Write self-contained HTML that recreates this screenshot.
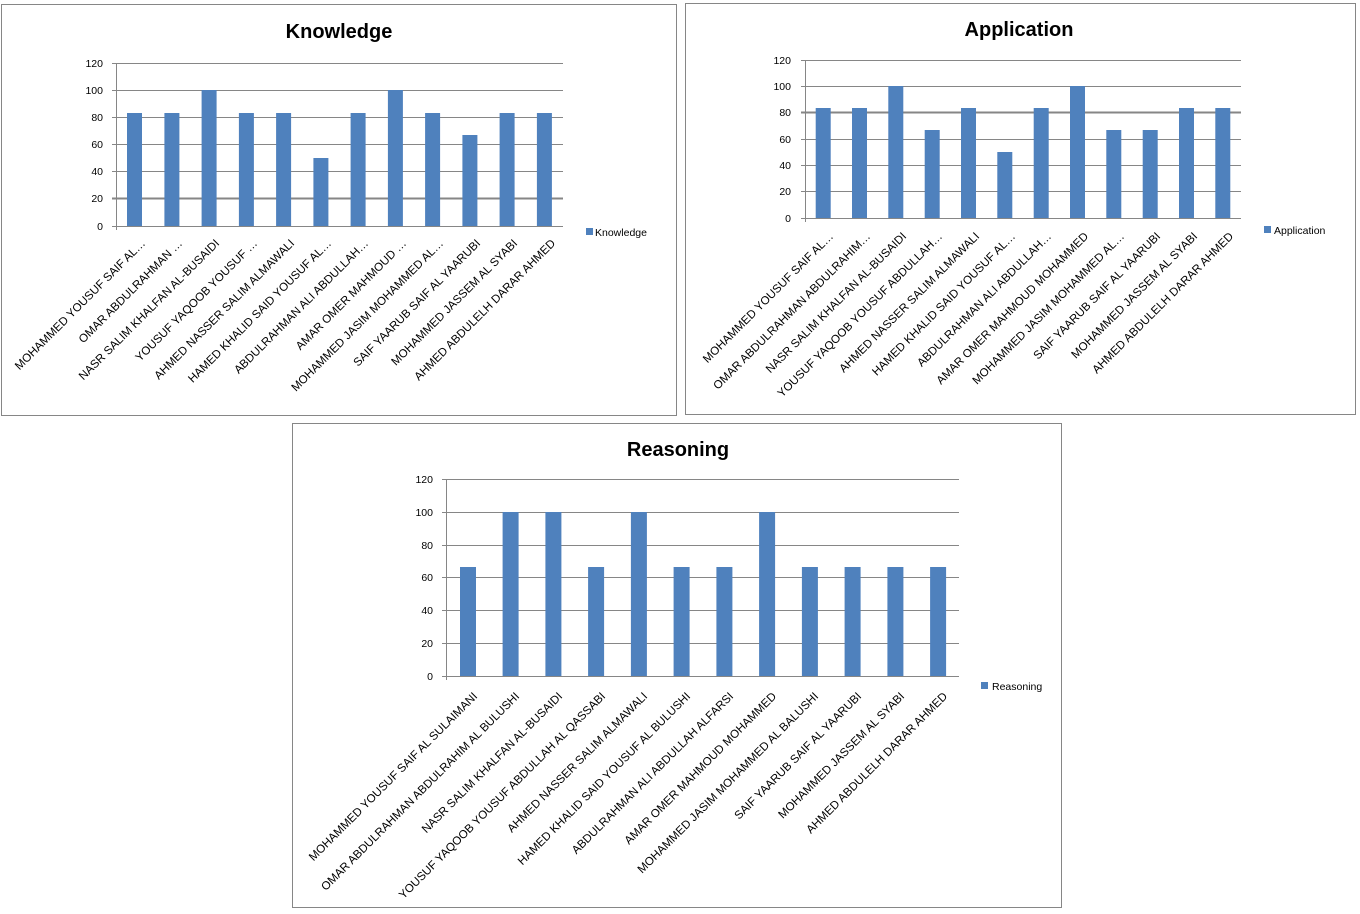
<!DOCTYPE html>
<html><head><meta charset="utf-8"><style>
html,body{margin:0;padding:0;background:#fff;}
svg{display:block;font-family:"Liberation Sans",sans-serif;}
.t{font-weight:bold;font-size:20px;fill:#000;}
.y{font-size:10.5px;fill:#000;text-anchor:end;}
.l{font-size:11.6px;fill:#000;text-anchor:end;white-space:pre;}
.g{stroke:#868686;stroke-width:1;}
.b{fill:#4f81bd;}
.leg{font-size:10.5px;fill:#000;}
</style></head><body>
<svg width="1360" height="914" viewBox="0 0 1360 914">
<!-- Knowledge -->
<rect x="1.5" y="4.5" width="675" height="411" fill="#fff" stroke="#868686"/>
<text class="t" x="339" y="38" text-anchor="middle">Knowledge</text>
<g class="g">
<line x1="112" y1="63.5" x2="563" y2="63.5"/><line x1="112" y1="90.5" x2="563" y2="90.5"/><line x1="112" y1="117.5" x2="563" y2="117.5"/><line x1="112" y1="144.5" x2="563" y2="144.5"/><line x1="112" y1="171.5" x2="563" y2="171.5"/><line x1="112" y1="198.5" x2="563" y2="198.5" style="stroke-width:2"/><line x1="112" y1="226.5" x2="563" y2="226.5"/>
<line x1="116.5" y1="63" x2="116.5" y2="230"/>
</g>
<g class="y"><text x="103" y="67">120</text><text x="103" y="94">100</text><text x="103" y="121">80</text><text x="103" y="148">60</text><text x="103" y="175">40</text><text x="103" y="202">20</text><text x="103" y="230">0</text></g>
<g class="b">
<rect x="127" y="113" width="15" height="113"/><rect x="164.4" y="113" width="15" height="113"/><rect x="201.6" y="90" width="15" height="136"/><rect x="238.9" y="113" width="15" height="113"/><rect x="276.1" y="113" width="15" height="113"/><rect x="313.4" y="158" width="15" height="68"/><rect x="350.6" y="113" width="15" height="113"/><rect x="387.9" y="90" width="15" height="136"/><rect x="425.1" y="113" width="15" height="113"/><rect x="462.4" y="135" width="15" height="91"/><rect x="499.6" y="113" width="15" height="113"/><rect x="536.9" y="113" width="15" height="113"/>
</g>
<rect class="b" x="586" y="228" width="7" height="7"/><text class="leg" x="595" y="236">Knowledge</text>
<g class="l" xml:space="preserve">
<text transform="translate(146,244) rotate(-45)">MOHAMMED YOUSUF SAIF  AL…</text>
<text transform="translate(183,244) rotate(-45)">OMAR ABDULRAHMAN …</text>
<text transform="translate(220,244) rotate(-45)">NASR SALIM KHALFAN AL-BUSAIDI</text>
<text transform="translate(258,244) rotate(-45)">YOUSUF YAQOOB YOUSUF …</text>
<text transform="translate(295,244) rotate(-45)">AHMED NASSER SALIM ALMAWALI</text>
<text transform="translate(332,244) rotate(-45)">HAMED KHALID SAID YOUSUF AL…</text>
<text transform="translate(369,244) rotate(-45)">ABDULRAHMAN ALI ABDULLAH…</text>
<text transform="translate(407,244) rotate(-45)">AMAR OMER MAHMOUD …</text>
<text transform="translate(444,244) rotate(-45)">MOHAMMED JASIM MOHAMMED AL…</text>
<text transform="translate(481,244) rotate(-45)">SAIF YAARUB SAIF AL YAARUBI</text>
<text transform="translate(518,244) rotate(-45)">MOHAMMED JASSEM AL SYABI</text>
<text transform="translate(556,244) rotate(-45)">AHMED ABDULELH DARAR AHMED</text>
</g>

<!-- Application -->
<rect x="685.5" y="3.5" width="670" height="411" fill="#fff" stroke="#868686"/>
<text class="t" x="1019" y="36" text-anchor="middle">Application</text>
<g class="g">
<line x1="801" y1="60.5" x2="1241" y2="60.5"/><line x1="801" y1="86.5" x2="1241" y2="86.5"/><line x1="801" y1="112.5" x2="1241" y2="112.5" style="stroke-width:2"/><line x1="801" y1="139.5" x2="1241" y2="139.5"/><line x1="801" y1="165.5" x2="1241" y2="165.5"/><line x1="801" y1="191.5" x2="1241" y2="191.5"/><line x1="801" y1="218.5" x2="1241" y2="218.5"/>
<line x1="805.5" y1="60" x2="805.5" y2="222"/>
</g>
<g class="y"><text x="791" y="64">120</text><text x="791" y="90">100</text><text x="791" y="116">80</text><text x="791" y="143">60</text><text x="791" y="169">40</text><text x="791" y="195">20</text><text x="791" y="222">0</text></g>
<g class="b">
<rect x="815.7" y="108" width="15" height="110"/><rect x="852" y="108" width="15" height="110"/><rect x="888.3" y="86" width="15" height="132"/><rect x="924.7" y="130" width="15" height="88"/><rect x="961" y="108" width="15" height="110"/><rect x="997.3" y="152" width="15" height="66"/><rect x="1033.7" y="108" width="15" height="110"/><rect x="1070" y="86" width="15" height="132"/><rect x="1106.3" y="130" width="15" height="88"/><rect x="1142.7" y="130" width="15" height="88"/><rect x="1179" y="108" width="15" height="110"/><rect x="1215.3" y="108" width="15" height="110"/>
</g>
<rect class="b" x="1264" y="226" width="7" height="7"/><text class="leg" x="1274" y="234">Application</text>
<g class="l" xml:space="preserve">
<text transform="translate(834,237) rotate(-45)">MOHAMMED YOUSUF SAIF  AL…</text>
<text transform="translate(871,237) rotate(-45)">OMAR ABDULRAHMAN ABDULRAHIM…</text>
<text transform="translate(907,237) rotate(-45)">NASR SALIM KHALFAN AL-BUSAIDI</text>
<text transform="translate(943,237) rotate(-45)">YOUSUF YAQOOB YOUSUF ABDULLAH…</text>
<text transform="translate(980,237) rotate(-45)">AHMED NASSER SALIM ALMAWALI</text>
<text transform="translate(1016,237) rotate(-45)">HAMED KHALID SAID YOUSUF AL…</text>
<text transform="translate(1052,237) rotate(-45)">ABDULRAHMAN ALI ABDULLAH…</text>
<text transform="translate(1089,237) rotate(-45)">AMAR OMER MAHMOUD MOHAMMED</text>
<text transform="translate(1125,237) rotate(-45)">MOHAMMED JASIM MOHAMMED AL…</text>
<text transform="translate(1161,237) rotate(-45)">SAIF YAARUB SAIF AL YAARUBI</text>
<text transform="translate(1198,237) rotate(-45)">MOHAMMED JASSEM AL SYABI</text>
<text transform="translate(1234,237) rotate(-45)">AHMED ABDULELH DARAR AHMED</text>
</g>

<!-- Reasoning -->
<rect x="292.5" y="423.5" width="769" height="484" fill="#fff" stroke="#868686"/>
<text class="t" x="678" y="456" text-anchor="middle">Reasoning</text>
<g class="g">
<line x1="442" y1="479.5" x2="959" y2="479.5"/><line x1="442" y1="512.5" x2="959" y2="512.5"/><line x1="442" y1="545.5" x2="959" y2="545.5"/><line x1="442" y1="577.5" x2="959" y2="577.5"/><line x1="442" y1="610.5" x2="959" y2="610.5"/><line x1="442" y1="643.5" x2="959" y2="643.5"/><line x1="442" y1="676.5" x2="959" y2="676.5"/>
<line x1="446.5" y1="479" x2="446.5" y2="680"/>
</g>
<g class="y"><text x="433" y="483">120</text><text x="433" y="516">100</text><text x="433" y="549">80</text><text x="433" y="581">60</text><text x="433" y="614">40</text><text x="433" y="647">20</text><text x="433" y="680">0</text></g>
<g class="b">
<rect x="460" y="567" width="16" height="109"/><rect x="502.6" y="512" width="16" height="164"/><rect x="545.4" y="512" width="16" height="164"/><rect x="588.1" y="567" width="16" height="109"/><rect x="630.9" y="512" width="16" height="164"/><rect x="673.6" y="567" width="16" height="109"/><rect x="716.4" y="567" width="16" height="109"/><rect x="759.1" y="512" width="16" height="164"/><rect x="801.9" y="567" width="16" height="109"/><rect x="844.6" y="567" width="16" height="109"/><rect x="887.4" y="567" width="16" height="109"/><rect x="930.1" y="567" width="16" height="109"/>
</g>
<rect class="b" x="981" y="682" width="7" height="7"/><text class="leg" x="992" y="690">Reasoning</text>
<g class="l" xml:space="preserve">
<text transform="translate(478,697) rotate(-45)">MOHAMMED YOUSUF SAIF  AL SULAIMANI</text>
<text transform="translate(520,697) rotate(-45)">OMAR ABDULRAHMAN ABDULRAHIM AL BULUSHI</text>
<text transform="translate(563,697) rotate(-45)">NASR SALIM KHALFAN AL-BUSAIDI</text>
<text transform="translate(606,697) rotate(-45)">YOUSUF YAQOOB YOUSUF  ABDULLAH AL QASSABI</text>
<text transform="translate(648,697) rotate(-45)">AHMED NASSER SALIM ALMAWALI</text>
<text transform="translate(691,697) rotate(-45)">HAMED KHALID SAID YOUSUF AL BULUSHI</text>
<text transform="translate(734,697) rotate(-45)">ABDULRAHMAN ALI ABDULLAH  ALFARSI</text>
<text transform="translate(777,697) rotate(-45)">AMAR OMER MAHMOUD MOHAMMED</text>
<text transform="translate(819,697) rotate(-45)">MOHAMMED JASIM MOHAMMED AL BALUSHI</text>
<text transform="translate(862,697) rotate(-45)">SAIF YAARUB SAIF AL YAARUBI</text>
<text transform="translate(905,697) rotate(-45)">MOHAMMED JASSEM AL SYABI</text>
<text transform="translate(948,697) rotate(-45)">AHMED ABDULELH DARAR AHMED</text>
</g>
</svg>
</body></html>
